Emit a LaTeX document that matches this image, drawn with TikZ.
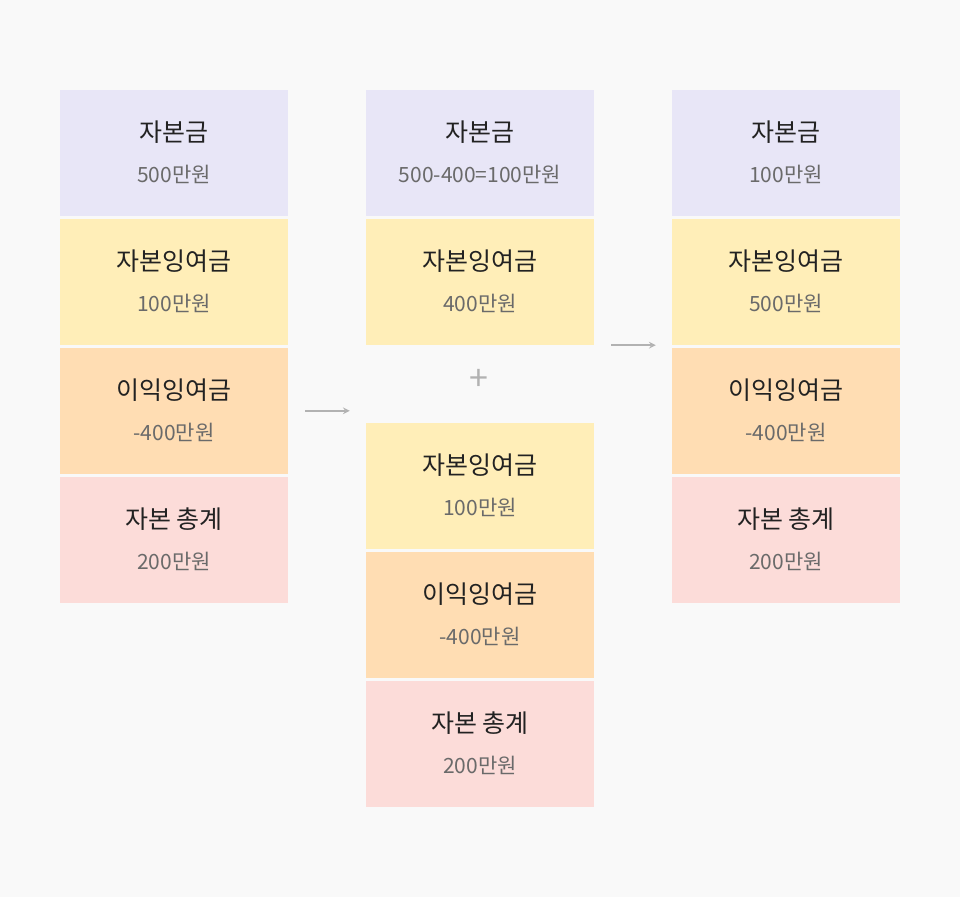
\documentclass[tikz,border=0pt]{standalone}
\usepackage{fontspec}
\setmainfont{Noto Sans CJK KR}
\usetikzlibrary{positioning}
\definecolor{bgcol}{HTML}{F9F9F9}
\definecolor{capcol}{HTML}{E8E6F7}
\definecolor{surcol}{HTML}{FFEEB8}
\definecolor{retcol}{HTML}{FFDDB3}
\definecolor{totcol}{HTML}{FCDCD9}
\definecolor{titcol}{HTML}{222222}
\definecolor{valcol}{HTML}{6A6A6A}
\tikzset{
  acct/.style={minimum width=228pt,minimum height=126pt,inner sep=0pt,fill=#1},
  ttl/.style={font=\fontsize{25}{30}\selectfont,text=titcol},
  val/.style={font=\fontsize{21}{26}\selectfont,text=valcol},
  flow/.style={draw=black!30,line width=2pt,->,>=stealth}
}
% one account box: name, colour, centre, title, value
\newcommand{\acctbox}[5]{%
  \node[acct=#2] (#1) at #3 {};
  \node[ttl] at ([yshift=21pt]#1.center) {#4};
  \node[val] at ([yshift=-21pt]#1.center) {#5};}
\begin{document}
\begin{tikzpicture}[x=1pt,y=-1pt]
  \fill[bgcol] (0,0) rectangle (960,897);

  % left column
  \acctbox{lcap}{capcol}{(174,153)}{자본금}{500만원}
  \acctbox{lsur}{surcol}{(174,282)}{자본잉여금}{100만원}
  \acctbox{lret}{retcol}{(174,411)}{이익잉여금}{-400만원}
  \acctbox{ltot}{totcol}{(174,540)}{자본 총계}{200만원}

  % middle column
  \acctbox{mcap}{capcol}{(480,153)}{자본금}{500-400=100만원}
  \acctbox{msur}{surcol}{(480,282)}{자본잉여금}{400만원}
  \acctbox{nsur}{surcol}{(480,486)}{자본잉여금}{100만원}
  \acctbox{nret}{retcol}{(480,615)}{이익잉여금}{-400만원}
  \acctbox{ntot}{totcol}{(480,744)}{자본 총계}{200만원}
  \node[font=\fontsize{34}{34}\selectfont,text=black!30] (plus) at (479,380) {+};

  % right column
  \acctbox{rcap}{capcol}{(786,153)}{자본금}{100만원}
  \acctbox{rsur}{surcol}{(786,282)}{자본잉여금}{500만원}
  \acctbox{rret}{retcol}{(786,411)}{이익잉여금}{-400만원}
  \acctbox{rtot}{totcol}{(786,540)}{자본 총계}{200만원}

  % the arrows
  \draw[flow] ([xshift=17pt,yshift=-63pt]lret.north east) -- ([xshift=-16pt,yshift=-63pt]lret.north east -| msur.west);
  \draw[flow] ([xshift=17pt]msur.south east) -- ([xshift=-16pt]msur.south east -| rsur.west);
\end{tikzpicture}
\end{document}
